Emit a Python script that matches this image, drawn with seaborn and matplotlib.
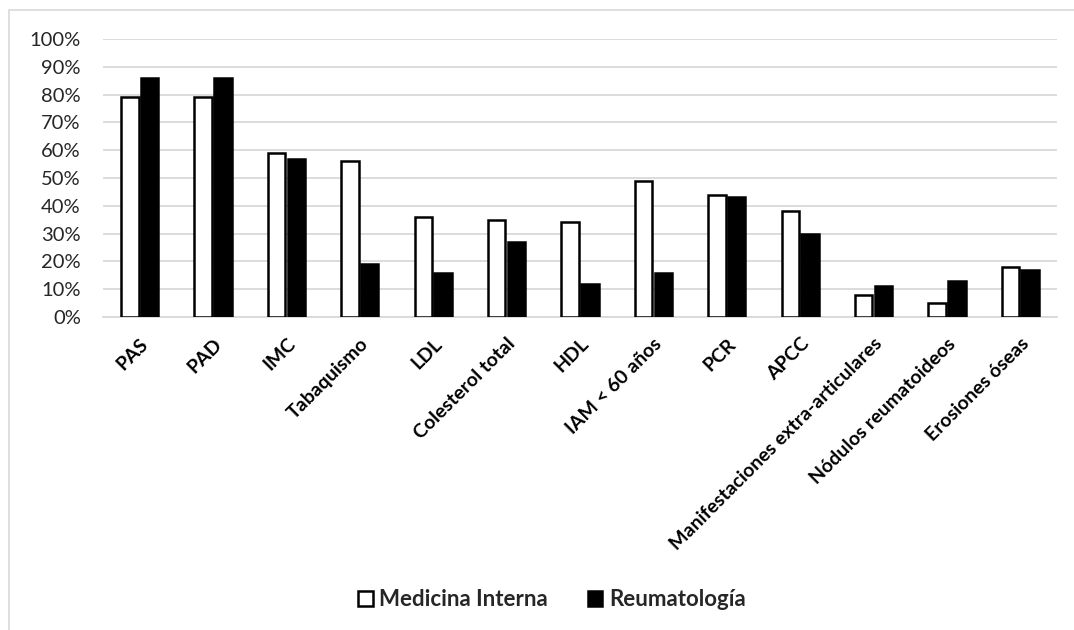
import matplotlib
matplotlib.use("Agg")
import matplotlib.pyplot as plt
import matplotlib.patches as mpatches
import seaborn as sns
import pandas as pd

categorias = ["PAS", "PAD", "IMC", "Tabaquismo", "LDL", "Colesterol total", "HDL",
              "IAM < 60 años", "PCR", "APCC", "Manifestaciones extra-articulares",
              "Nódulos reumatoideos", "Erosiones óseas"]
medicina_interna = [79, 79, 59, 56, 36, 35, 34, 49, 44, 38, 8, 5, 18]
reumatologia = [86, 86, 57, 19, 16, 27, 12, 16, 43, 30, 11, 13, 17]
series = ["Medicina Interna", "Reumatología"]
yticks = [0, 10, 20, 30, 40, 50, 60, 70, 80, 90, 100]

df = pd.DataFrame({
    "categoria": categorias * 2,
    "serie": [series[0]] * len(categorias) + [series[1]] * len(categorias),
    "valor": [v / 100 for v in medicina_interna + reumatologia],
})

sns.set_theme(style="white")
plt.rcParams["font.family"] = ["Lato", "DejaVu Sans"]

fig = plt.figure(figsize=(10.74, 6.3), dpi=100)
ax = fig.add_axes([103 / 1074, 1 - 317 / 630, (1057 - 103) / 1074, (317 - 39) / 630])

sns.barplot(data=df, x="categoria", y="valor", hue="serie", order=categorias,
            hue_order=series, palette={series[0]: "white", series[1]: "black"},
            edgecolor="black", linewidth=1.8, width=0.54, gap=0.12,
            errorbar=None, legend=False, ax=ax, zorder=3)

ax.set_ylim(0, 1.0)
ax.set_xlim(-0.5, len(categorias) - 0.5)
ax.set_yticks([t / 100 for t in yticks])
ax.set_yticklabels([f"{t}%" for t in yticks], fontsize=14.5, color="#262626")
ax.yaxis.grid(True, color="#d9d9d9", linewidth=1.3, zorder=0)
ax.set_axisbelow(True)
ax.tick_params(axis="y", length=0, pad=16)
ax.tick_params(axis="x", length=0, pad=13)
ax.set_xticks(range(len(categorias)))
ax.set_xticklabels(categorias, rotation=45, ha="right", rotation_mode="anchor",
                   fontsize=14, fontweight="bold", color="black")
ax.set_xlabel("")
ax.set_ylabel("")
for side in ["top", "right", "left"]:
    ax.spines[side].set_visible(False)
ax.spines["bottom"].set_color("#d9d9d9")
ax.spines["bottom"].set_linewidth(1.3)

handles = [mpatches.Patch(facecolor="white", edgecolor="black", linewidth=1.8, label=series[0]),
           mpatches.Patch(facecolor="black", edgecolor="black", linewidth=1.8, label=series[1])]
fig.legend(handles=handles, loc="center", bbox_to_anchor=(552 / 1074, 1 - 600 / 630), ncol=2,
           frameon=False, prop={"weight": "bold", "size": 16}, handlelength=0.64,
           handleheight=0.64, handletextpad=0.3, columnspacing=1.8)

# outer chart frame
fig.patches.append(mpatches.Rectangle((9 / 1074, -0.01), 1.02, 1 - 10 / 630 + 0.01,
                                      transform=fig.transFigure, fill=False,
                                      edgecolor="#d9d9d9", linewidth=1.2))

fig.savefig("out.png", dpi=100)
